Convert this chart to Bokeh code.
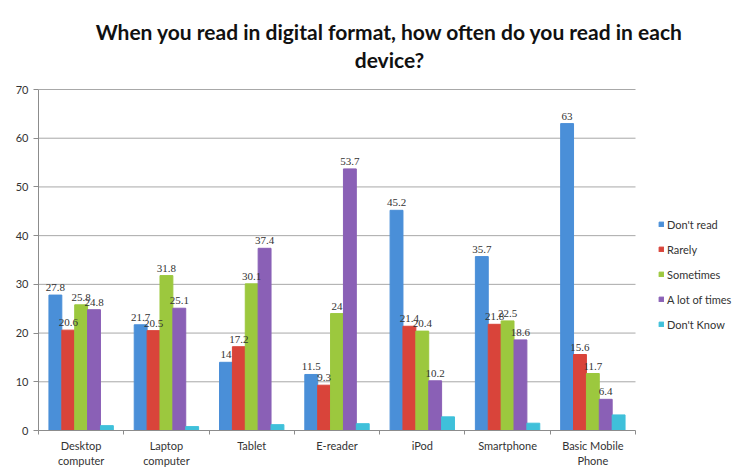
from bokeh.plotting import figure
from bokeh.models import (ColumnDataSource, Range1d, LinearAxis, FixedTicker, LabelSet, Title,
                          Legend, LegendItem)
from bokeh.transform import dodge
from bokeh.embed import file_html
from bokeh.resources import INLINE

devices = ["Desktop\ncomputer", "Laptop\ncomputer", "Tablet", "E-reader", "iPod",
           "Smartphone", "Basic Mobile\nPhone"]
series_names = ["Don't read", "Rarely", "Sometimes", "A lot of times", "Don't Know"]
dont_read = [27.8, 21.7, 14, 11.5, 45.2, 35.7, 63]
rarely = [20.6, 20.5, 17.2, 9.3, 21.4, 21.8, 15.6]
sometimes = [25.8, 31.8, 30.1, 24, 20.4, 22.5, 11.7]
a_lot = [24.8, 25.1, 37.4, 53.7, 10.2, 18.6, 6.4]
dont_know = [1.0, 0.8, 1.2, 1.4, 2.8, 1.5, 3.2]
y_ticks = [0, 10, 20, 30, 40, 50, 60, 70]
title_lines = ["When you read in digital format, how often do you read in each", "device?"]

colors = ["#4a8fd8", "#d9443a", "#9cc83e", "#8a60b6", "#3fc0da"]
values = [dont_read, rarely, sometimes, a_lot, dont_know]
labelled = [True, True, True, True, False]

FONT = "Lato"
W = 0.151
n = len(devices)
centers = [i + 0.5 for i in range(n)]
PLOT_W = 597      # pixel width of the bar area
FRAME_W = 702     # frame extends under the legend
PLOT_H = 341      # pixel height of the 0..70 area
FRAME_H = 358     # frame extends a little above the top gridline
y_max = y_ticks[-1]

p = figure(width=740, height=475, x_range=Range1d(0, n * FRAME_W / PLOT_W),
           y_range=Range1d(0, y_max * FRAME_H / PLOT_H),
           output_backend="svg", toolbar_location=None, x_axis_location=None,
           y_axis_location=None, min_border_left=38, min_border_right=0,
           min_border_top=72, min_border_bottom=45)
p.outline_line_color = None
p.background_fill_color = "white"
p.border_fill_color = "white"
p.xgrid.visible = False
p.ygrid.visible = False

# title: line 1 on top, line 2 nearest the frame
p.title.text = title_lines[0]
p.title.align = "center"
p.title.text_font = FONT
p.title.text_font_style = "bold"
p.title.text_font_size = "21px"
p.title.text_color = "#111111"
p.title.standoff = 0
t2 = Title(text=title_lines[1], align="center", text_font=FONT,
           text_font_style="bold", text_font_size="21px", text_color="#111111", standoff=2)
p.add_layout(t2, "above")

yaxis = LinearAxis(ticker=FixedTicker(ticks=y_ticks), bounds=(0, y_max))
yaxis.axis_line_color = "#8c8c8c"
yaxis.major_tick_line_color = "#8c8c8c"
yaxis.major_tick_out = 5
yaxis.major_tick_in = 0
yaxis.minor_tick_line_color = None
yaxis.major_label_standoff = 5
yaxis.major_label_text_font = FONT
yaxis.major_label_text_font_size = "11px"
yaxis.major_label_text_color = "#333333"
p.add_layout(yaxis, "left")

# horizontal gridlines limited to the bar area
p.segment(x0=0, x1=n, y0=y_ticks[1:], y1=y_ticks[1:], line_color="#a8a8a8", line_width=1)

xaxis = LinearAxis(ticker=FixedTicker(ticks=centers, minor_ticks=list(range(n + 1))),
                   bounds=(0, n))
xaxis.major_label_overrides = {c: d for c, d in zip(centers, devices)}
xaxis.axis_line_color = "#8c8c8c"
xaxis.major_tick_line_color = None
xaxis.minor_tick_line_color = "#8c8c8c"
xaxis.minor_tick_out = 4
xaxis.minor_tick_in = 0
xaxis.major_label_standoff = 2
xaxis.major_label_text_font = FONT
xaxis.major_label_text_font_size = "11px"
xaxis.major_label_text_color = "#333333"
p.add_layout(xaxis, "below")

src = {"x": centers}
for i, v in enumerate(values):
    src[f"s{i}"] = v
    src[f"t{i}"] = [f"{x:g}" for x in v]
source = ColumnDataSource(src)

items = []
offsets = [(-2 + i) * W for i in range(5)]
for i in range(5):
    r = p.vbar(x=dodge("x", offsets[i]), top=f"s{i}", width=W,
               source=source, fill_color=colors[i], line_color=colors[i])
    items.append(LegendItem(label=series_names[i], renderers=[r]))
    if labelled[i]:
        p.add_layout(LabelSet(x=dodge("x", offsets[i]), y=f"s{i}",
                              text=f"t{i}", source=source, text_align="center",
                              text_baseline="bottom", y_offset=4, text_font=FONT,
                              text_font_size="11px", text_color="#333333"))

legend = Legend(items=items, location=(620, 99))
legend.glyph_width = 6
legend.glyph_height = 6
legend.label_text_font = FONT
legend.label_text_font_size = "11px"
legend.label_text_color = "#333333"
legend.label_standoff = 3
legend.spacing = 11
legend.label_height = 14
legend.padding = 0
legend.margin = 0
legend.border_line_color = None
legend.background_fill_alpha = 0
p.add_layout(legend)

open("out.html", "w").write(file_html(p, INLINE))
